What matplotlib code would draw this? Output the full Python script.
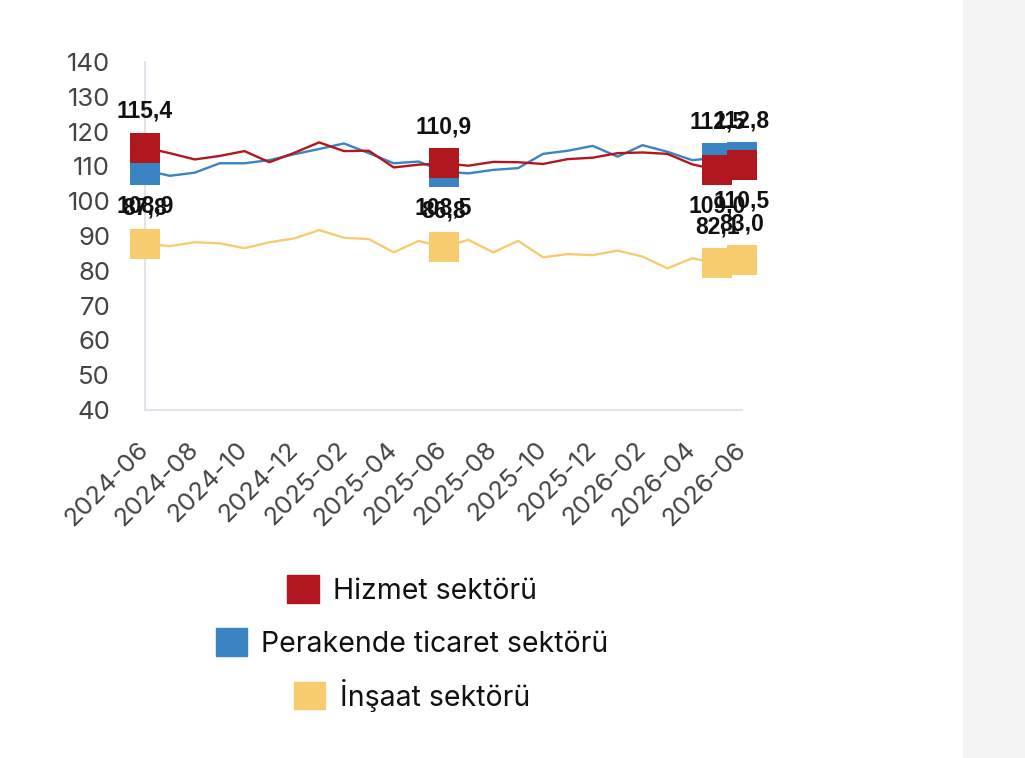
import matplotlib.pyplot as plt
import matplotlib.patches as mpatches
import numpy as np

months = ["2024-06", "2024-07", "2024-08", "2024-09", "2024-10", "2024-11", "2024-12",
          "2025-01", "2025-02", "2025-03", "2025-04", "2025-05", "2025-06", "2025-07",
          "2025-08", "2025-09", "2025-10", "2025-11", "2025-12", "2026-01", "2026-02",
          "2026-03", "2026-04", "2026-05", "2026-06"]

hizmet = [115.4, 113.8, 112.0, 113.0, 114.4, 111.2, 113.9, 116.9, 114.4, 114.5, 109.7, 110.5,
          110.9, 110.2, 111.3, 111.2, 110.7, 112.1, 112.5, 113.8, 114.0, 113.6, 110.6, 109.0, 110.5]
perakende = [108.9, 107.3, 108.2, 110.9, 110.9, 111.8, 113.5, 115.0, 116.6, 113.8, 110.9, 111.4,
             108.5, 108.0, 109.0, 109.5, 113.6, 114.5, 115.9, 112.8, 116.1, 114.2, 111.8, 112.5, 112.8]
insaat = [87.8, 87.1, 88.2, 87.9, 86.5, 88.2, 89.3, 91.7, 89.5, 89.1, 85.3, 88.6,
          86.8, 88.9, 85.3, 88.6, 83.9, 84.8, 84.5, 85.8, 84.1, 80.7, 83.6, 82.1, 83.0]

names = ["Hizmet sektörü", "Perakende ticaret sektörü", "İnşaat sektörü"]
labelled = [0, 12, 23, 24]   # months that carry a marker and value label

red = "#b0171e"
blue = "#3a84c4"
yellow = "#f6cc6e"

fig = plt.figure(figsize=(10.25, 7.58), dpi=100)
fig.patches.append(mpatches.Rectangle((963/1025, 0), 1 - 963/1025, 1, transform=fig.transFigure,
                                      color="#f4f4f4", zorder=-1))
ax = fig.add_axes([145/1025, 1 - 410/758, 597/1025, 348/758])

x = np.arange(len(months))
series = [(perakende, blue, 1), (hizmet, red, 0), (insaat, yellow, 2)]

for vals, col, k in series:
    ax.plot(x, vals, color=col, lw=1.7, clip_on=False, zorder=2 + (k == 0))

for vals, col, k in series:
    ax.plot(x[labelled], np.array(vals)[labelled], ls="none", marker="s", ms=21,
            mfc=col, mec=col, mew=0, clip_on=False, zorder=4 + (k == 0))

for i in labelled:
    vals_i = [hizmet[i], perakende[i], insaat[i]]
    order = np.argsort(vals_i)[::-1]
    for k, v in enumerate(vals_i):
        below = (order[1] == k)
        off = -26 if below else 26
        ax.annotate(f"{v:.1f}".replace(".", ","), (i, v), xytext=(0, off),
                    textcoords="offset points", ha="center", va="center",
                    fontsize=16.5, fontweight="bold", family="Liberation Sans",
                    color="#111111", annotation_clip=False, zorder=6)

ax.set_xlim(0, 24)
ax.set_ylim(40, 140)
ax.set_yticks(range(40, 141, 10))
ax.set_xticks(x[::2])
ax.set_xticklabels(months[::2], rotation=45, ha="right", va="center",
                   rotation_mode="anchor")
for lab in ax.get_xticklabels() + ax.get_yticklabels():
    lab.set_family("Inter")
    lab.set_fontsize(18.5)
    lab.set_color("#444444")
ax.tick_params(axis="both", length=0)
ax.tick_params(axis="x", pad=26)
ax.tick_params(axis="y", pad=25)
for s in ["top", "right"]:
    ax.spines[s].set_visible(False)
for s in ["left", "bottom"]:
    ax.spines[s].set_color("#dfe4ec")
    ax.spines[s].set_linewidth(1.5)

legend_rows = [(names[0], red, 590), (names[1], blue, 643), (names[2], yellow, 695)]
for name, col, ypix in legend_rows:
    h = mpatches.Patch(color=col, label=name)
    leg = fig.legend(handles=[h], loc="center", bbox_to_anchor=(412/1025, 1 - ypix/758),
                     frameon=False, handlelength=1.1, handleheight=1.1, handletextpad=0.5,
                     prop={"family": "Inter", "size": 20.5})
    for t in leg.get_texts():
        t.set_color("#111111")

fig.savefig("out.png", dpi=100)
